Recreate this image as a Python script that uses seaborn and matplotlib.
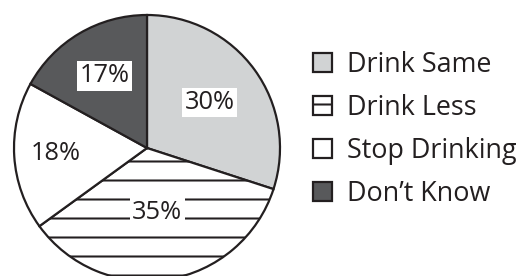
import matplotlib
matplotlib.use("Agg")
import matplotlib.pyplot as plt
import matplotlib.patches as mpatches
import seaborn as sns
import numpy as np

# ---------------------------
# Data
# ---------------------------
categories = ["Drink Same", "Drink Less", "Stop Drinking", "Don\u2019t Know"]
shares = [30, 35, 18, 17]
colors = ["#d1d3d4", "#ffffff", "#ffffff", "#58595b"]
hatches = ["", "-", "", ""]
label_dist = [0.58, 0.49, 0.69, 0.63]   # how far each % label sits from the centre
label_box = [True, True, False, True]    # white box behind the label

sns.set_style("white")
plt.rcParams["font.family"] = ["Open Sans", "DejaVu Sans"]
plt.rcParams["hatch.linewidth"] = 1.3

DPI = 114
fig = plt.figure(figsize=(526 / DPI, 276 / DPI), dpi=DPI)
fig.patch.set_facecolor("white")

# pie axes: centre at (147, 148) px, radius 133 px
ax = fig.add_axes([14 / 526, -5 / 276, 266 / 526, 266 / 276])

wedges, texts, autotexts = ax.pie(
    shares,
    colors=colors,
    startangle=90,
    counterclock=False,
    autopct="%d%%",
    pctdistance=0.6,
    wedgeprops=dict(edgecolor="#231f20", linewidth=1.4),
    textprops=dict(fontsize=16, color="#231f20"),
)
for w, h in zip(wedges, hatches):
    w.set_hatch(h)

for w, t, d, box in zip(wedges, autotexts, label_dist, label_box):
    ang = np.deg2rad((w.theta1 + w.theta2) / 2)
    t.set_position((d * np.cos(ang), d * np.sin(ang)))
    if box:
        t.set_bbox(dict(facecolor="white", edgecolor="none", pad=1.5))

ax.set_xlim(-1, 1)
ax.set_ylim(-1, 1)
ax.set_aspect("equal")
ax.axis("off")

# ---------------------------
# Legend
# ---------------------------
handles = [
    mpatches.Patch(facecolor=c, edgecolor="#231f20", hatch=h, linewidth=1.4)
    for c, h in zip(colors, hatches)
]

leg = fig.legend(
    handles,
    categories,
    loc="upper left",
    bbox_to_anchor=(302 / 526, 1 - 40 / 276),
    frameon=False,
    fontsize=17,
    handlelength=0.72,
    handleheight=0.72,
    handletextpad=0.55,
    labelspacing=0.56,
    borderaxespad=0,
)
for t in leg.get_texts():
    t.set_color("#231f20")

fig.savefig("out.png", dpi=DPI, facecolor="white")
